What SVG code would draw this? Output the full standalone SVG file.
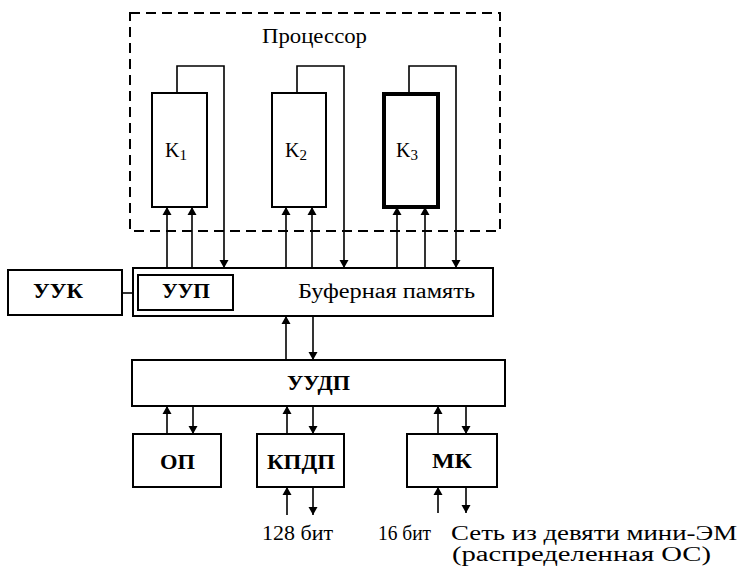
<svg xmlns="http://www.w3.org/2000/svg" width="739" height="567" viewBox="0 0 739 567">
<defs>
<marker id="ah" viewBox="0 0 8 12" refX="8" refY="6" markerWidth="8" markerHeight="12" markerUnits="userSpaceOnUse" orient="auto">
<path d="M0,1.5 L8,6 L0,10.5 Z" fill="#000"/>
</marker>
</defs>
<style>
.box{fill:#fff;stroke:#000;stroke-width:2}
.thick{fill:#fff;stroke:#000;stroke-width:4}
.dash{fill:none;stroke:#000;stroke-width:2;stroke-dasharray:10,6}
.ln{fill:none;stroke:#000;stroke-width:1.6}
.ar{fill:none;stroke:#000;stroke-width:1.6;marker-end:url(#ah)}
text{font-family:'Liberation Serif','Times New Roman','DejaVu Serif',serif;fill:#000}
.t{font-size:20px}
.b{font-size:21px;font-weight:bold}
</style>
<rect width="739" height="567" fill="#fff"/>

<g id="processor">
<rect class="dash" x="130" y="13" width="370" height="218"/>
<text class="t" x="262" y="43" textLength="105" lengthAdjust="spacingAndGlyphs">Процессор</text>
</g>

<g id="connectors">
<path class="ar" d="M177,93 V66 H224 V268"/>
<path class="ar" d="M297,93 V66 H344 V268"/>
<path class="ar" d="M409,93 V66 H456 V268"/>
<path class="ar" d="M167,268 V207"/>
<path class="ar" d="M192,268 V207"/>
<path class="ar" d="M286,268 V207"/>
<path class="ar" d="M312,268 V207"/>
<path class="ar" d="M397,268 V207"/>
<path class="ar" d="M425,268 V207"/>
<path class="ar" d="M286,360 V316"/>
<path class="ar" d="M313,316 V360"/>
<path class="ln" d="M122,293 H133"/>
<path class="ar" d="M167,434 V406"/>
<path class="ar" d="M193,406 V434"/>
<path class="ar" d="M287,434 V406"/>
<path class="ar" d="M313,406 V434"/>
<path class="ar" d="M438,434 V406"/>
<path class="ar" d="M466,406 V434"/>
<path class="ar" d="M287,515 V487"/>
<path class="ar" d="M313,487 V515"/>
<path class="ar" d="M438,513 V487"/>
<path class="ar" d="M466,487 V513"/>
</g>

<g id="k1">
<rect class="box" x="152" y="93" width="55" height="114"/>
<text class="t" x="165" y="157" font-size="23">K<tspan font-size="15" dy="3">1</tspan></text>
</g>
<g id="k2">
<rect class="box" x="272" y="93" width="54" height="114"/>
<text class="t" x="285" y="157" font-size="23">K<tspan font-size="15" dy="3">2</tspan></text>
</g>
<g id="k3">
<rect class="thick" x="384" y="94" width="54" height="113"/>
<text class="t" x="396" y="157" font-size="23">K<tspan font-size="15" dy="3">3</tspan></text>
</g>

<g id="buffer">
<rect class="box" x="133" y="268" width="360" height="48"/>
<text class="t" x="298" y="298" textLength="177" lengthAdjust="spacingAndGlyphs">Буферная память</text>
</g>
<g id="uup">
<rect class="box" x="138" y="275" width="95" height="35"/>
<text class="b" x="162" y="298" textLength="48" lengthAdjust="spacingAndGlyphs">УУП</text>
</g>
<g id="uuk">
<rect class="box" x="8" y="270" width="114" height="45"/>
<text class="b" x="33" y="298" textLength="50" lengthAdjust="spacingAndGlyphs">УУК</text>
</g>
<g id="uudp">
<rect class="box" x="132" y="360" width="373" height="46"/>
<text class="b" x="287" y="390" textLength="63" lengthAdjust="spacingAndGlyphs">УУДП</text>
</g>
<g id="op">
<rect class="box" x="133" y="434" width="88" height="53"/>
<text class="b" x="160" y="469" textLength="35" lengthAdjust="spacingAndGlyphs">ОП</text>
</g>
<g id="kpdp">
<rect class="box" x="257" y="434" width="87" height="53"/>
<text class="b" x="267" y="469" textLength="68" lengthAdjust="spacingAndGlyphs">КПДП</text>
</g>
<g id="mk">
<rect class="box" x="407" y="434" width="90" height="53"/>
<text class="b" x="432" y="468" textLength="40" lengthAdjust="spacingAndGlyphs">МК</text>
</g>

<g id="labels">
<text class="t" x="262" y="540" textLength="71" lengthAdjust="spacingAndGlyphs">128 бит</text>
<text class="t" x="378" y="540" textLength="53" lengthAdjust="spacingAndGlyphs">16 бит</text>
<text class="t" x="451" y="540" font-size="22" textLength="286" lengthAdjust="spacingAndGlyphs">Сеть из девяти мини-ЭМ</text>
<text class="t" x="452" y="561" font-size="22" textLength="259" lengthAdjust="spacingAndGlyphs">(распределенная ОС)</text>
</g>
</svg>
